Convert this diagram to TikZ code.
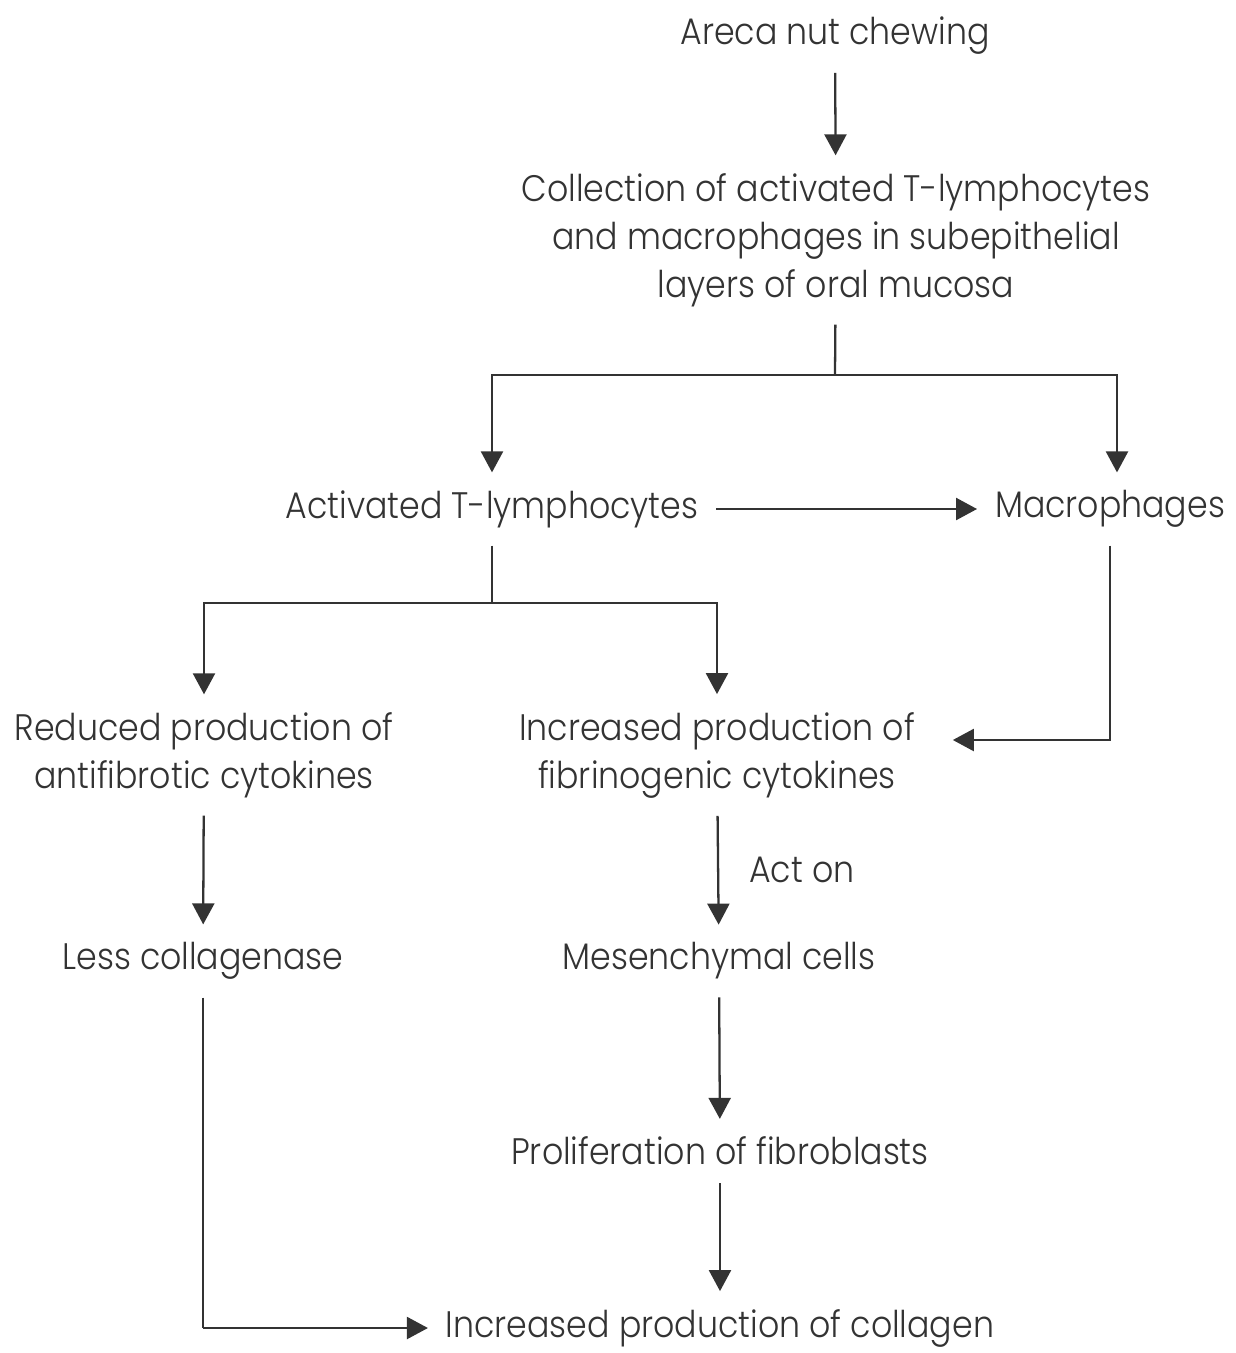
\documentclass[tikz,border=0pt]{standalone}
\usepackage{fontspec}
\setmainfont{Poppins Light}[FakeStretch=0.90]
\usetikzlibrary{arrows.meta}

\begin{document}
\begin{tikzpicture}[x=0.02cm,y=-0.02cm,color=black!80,line width=1.3pt,
    txt/.style={inner sep=0pt,outer sep=0.36cm,align=center,font=\fontsize{21}{27.3}\selectfont},
    arr/.style={-{Triangle[length=0.42cm,width=0.44cm]}}]
		\useasboundingbox (0,0) rectangle (1236,1353);
		
		\node[txt] (areca) at (835,36) {Areca nut chewing};
		\node[txt] (coll) at (836,240) {Collection of activated T-lymphocytes\\and macrophages in subepithelial\\layers of oral mucosa};
		\node[txt] (tlym) at (492,509) {Activated T-lymphocytes};
		\node[txt] (macro) at (1110,509) {Macrophages};
		\node[txt] (red) at (204,755) {Reduced production of\\antifibrotic cytokines};
		\node[txt] (fib) at (717,755) {Increased production of\\fibrinogenic cytokines};
		\node[txt] (less) at (203,961) {Less collagenase};
		\node[txt] (mes) at (719,961) {Mesenchymal cells};
		\node[txt] (prol) at (720,1151) {Proliferation of fibroblasts};
		\node[txt] (colg) at (720,1328) {Increased production of collagen};
		
		\coordinate (s1) at (835,375);
		\coordinate (s2) at (492,603);
		\coordinate (c3) at (203,1328);
		
		\draw[arr] (areca) -- (coll);
		\draw (coll) -- (s1);
		\draw[arr] (s1) -| (tlym);
		\draw[arr] (s1) -| ([xshift=0.14cm]macro.north);
		\draw[arr] (tlym) -- (macro);
		\draw (tlym) -- (s2);
		\draw[arr] (s2) -| (red);
		\draw[arr] (s2) -| (fib);
		\draw[arr,shorten >=0.4cm] (macro) |- ([yshift=0.3cm]fib.east);
		\draw[arr] (red) -- (less);
		\draw[arr] (fib) -- node[txt,outer sep=0pt,right,xshift=0.62cm] {Act on} (mes);
		\draw[arr] (mes) -- (prol);
		\draw[arr] (prol) -- (colg);
		\draw (less) -- (c3);
		\draw[arr] (c3) -- (colg);
	\end{tikzpicture}
\end{document}
